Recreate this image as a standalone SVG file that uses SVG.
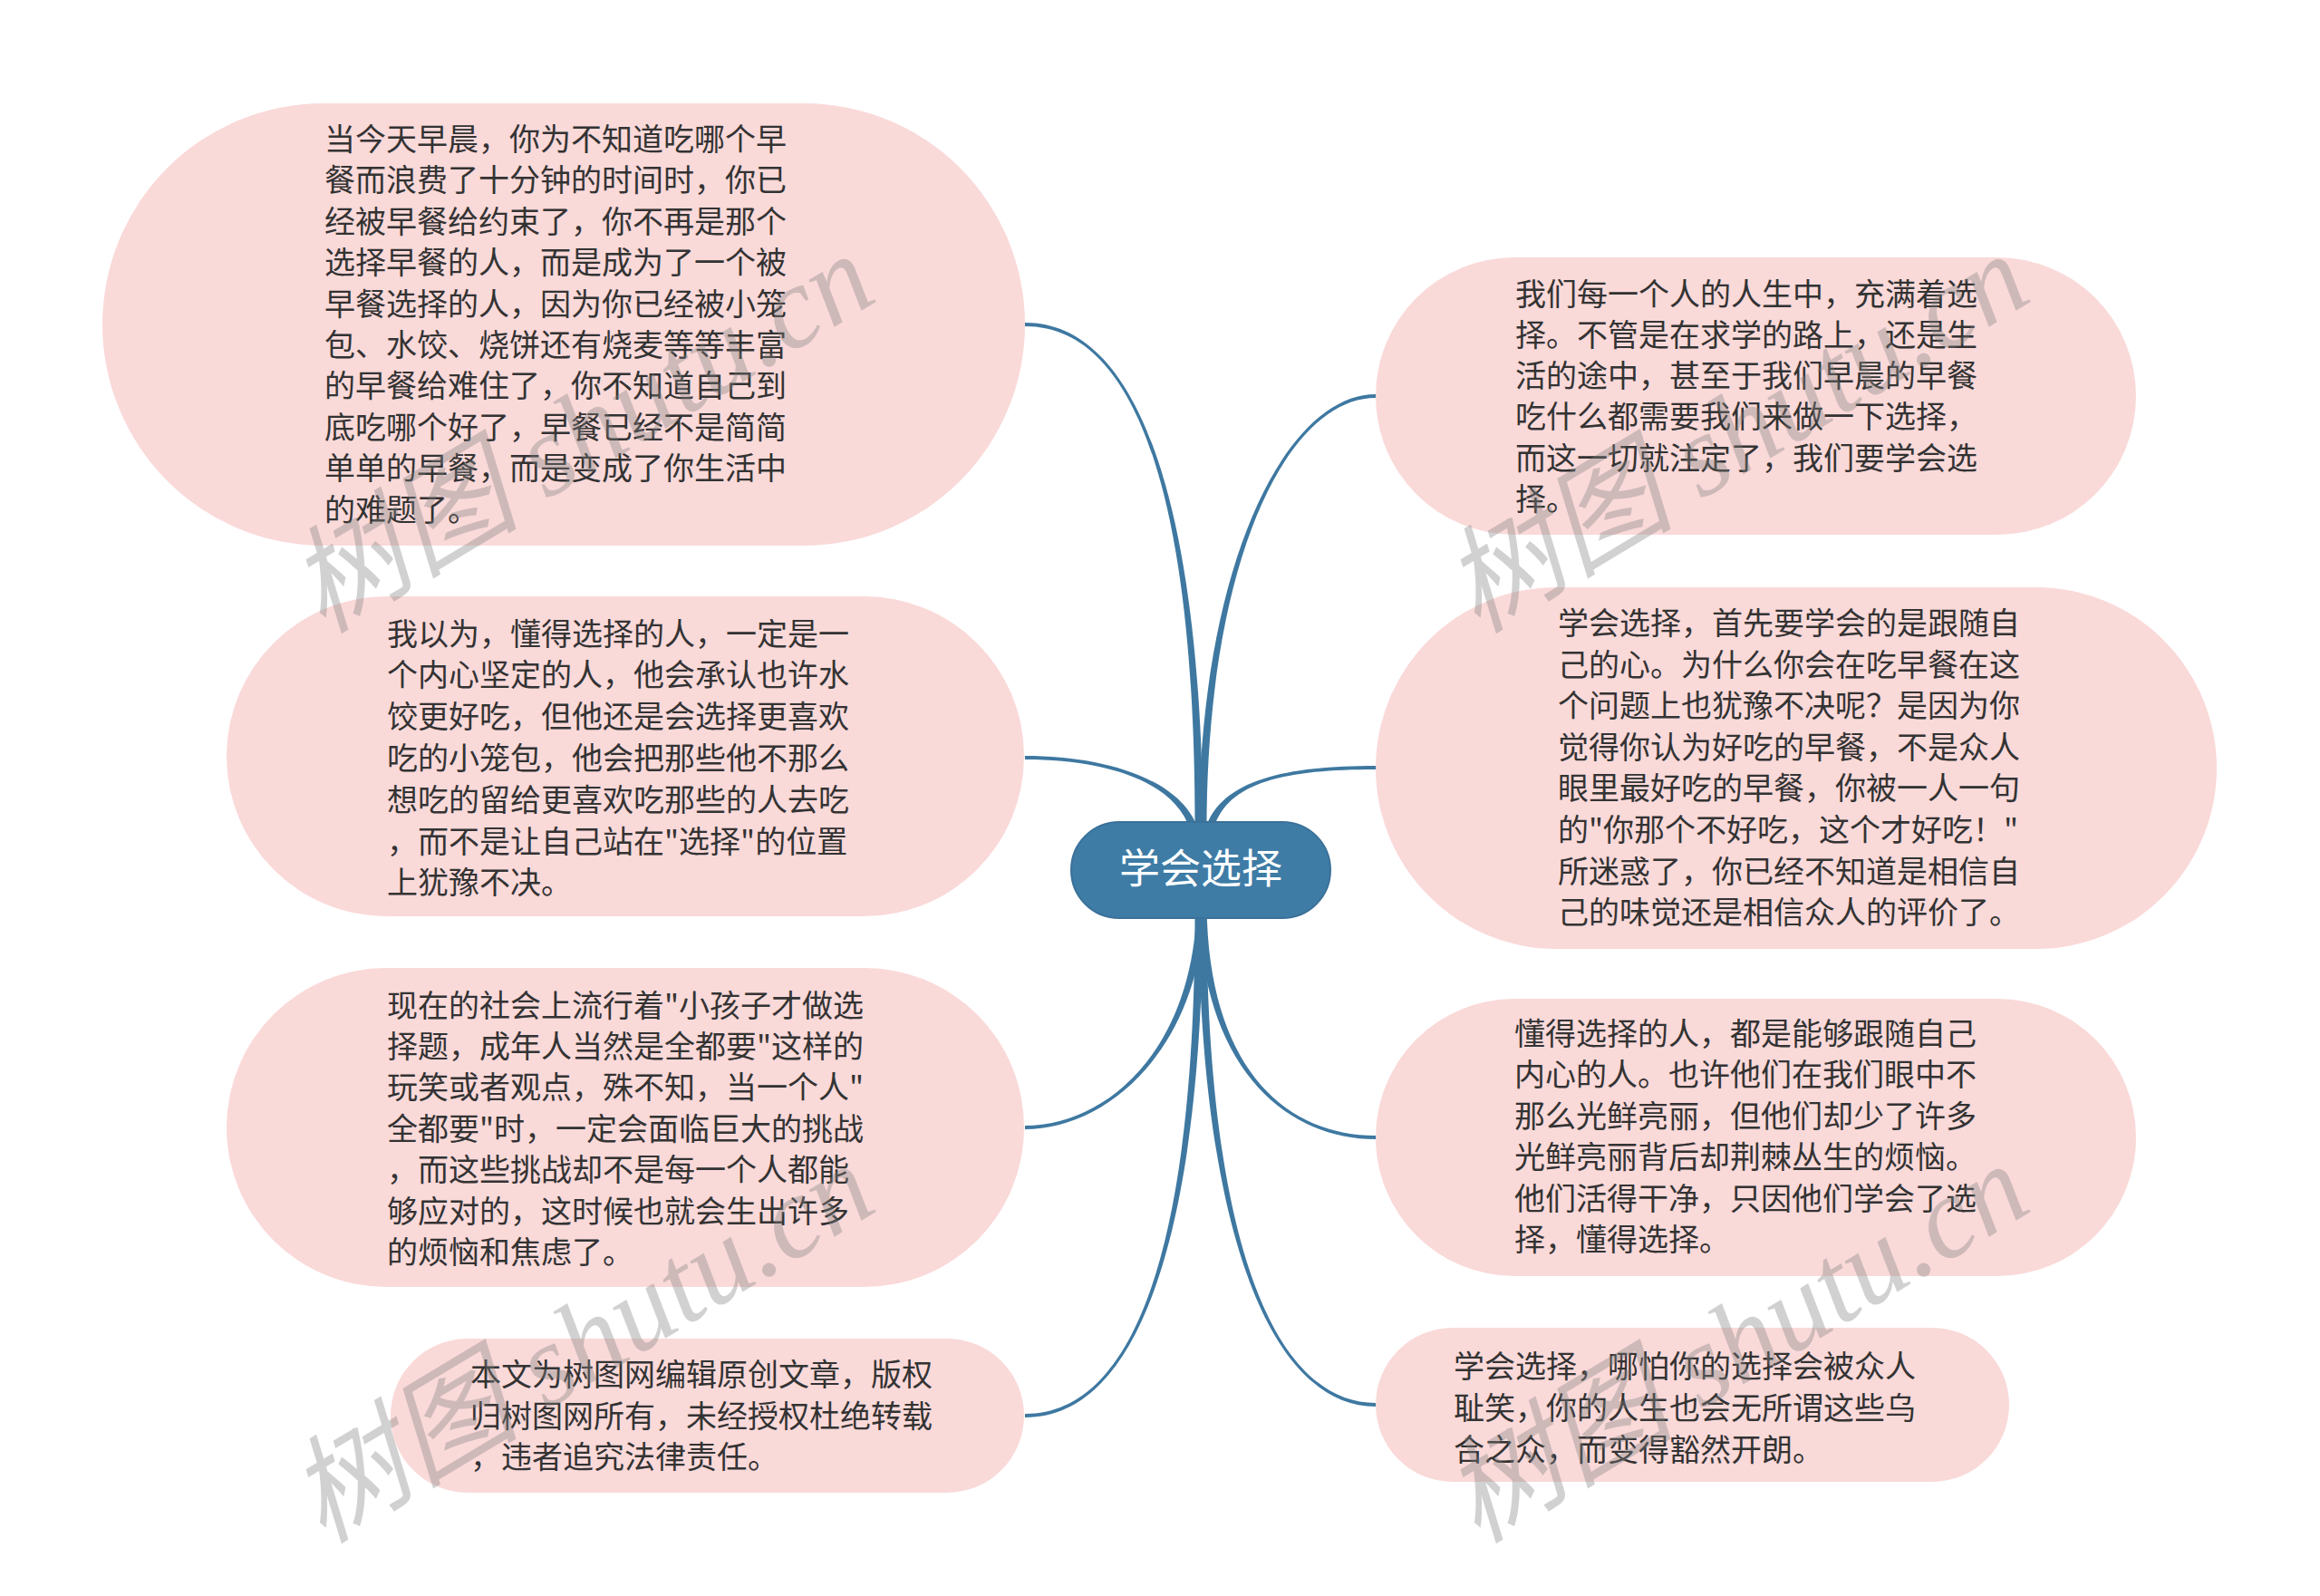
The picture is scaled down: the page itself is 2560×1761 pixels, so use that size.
<svg xmlns="http://www.w3.org/2000/svg" width="2560" height="1761" viewBox="0 0 2560 1761">
<defs>
<style>
.pill{fill:#FAD9D9;}
.t{font-family:"Noto Sans CJK SC","Noto Sans",sans-serif;font-size:34px;fill:#333333;}
.root-rect{fill:#3E7CA6;stroke:#3A7199;stroke-width:2;}
.root-text{font-family:"Noto Sans CJK SC","Noto Sans",sans-serif;font-size:45px;fill:#FFFFFF;text-anchor:middle;}
.conn{fill:#3E78A1;stroke:none;}
.wm{font-family:"Liberation Serif","Noto Sans CJK SC",serif;font-style:italic;font-size:128px;fill:#808080;fill-opacity:0.36;}
</style>
</defs>
<rect width="2560" height="1761" fill="#FFFFFF"/>

<g id="connectors">
<path class="conn" d="M1327.5,920 C1326.5,600 1270,356 1131,356 L1131,360 C1270,360 1319.5,600 1318.5,920 Z"/>
<path class="conn" d="M1322,915 C1304,860 1220,834 1131,834 L1131,838 C1220,838 1296,862 1313,915 Z"/>
<path class="conn" d="M1329.5,1000 C1323.5,1160 1220,1246 1131,1246 L1131,1242 C1220,1242 1316.5,1160 1320.5,1000 Z"/>
<path class="conn" d="M1327.5,1000 C1326.5,1350 1260,1564 1131,1564 L1131,1560 C1260,1560 1319.5,1350 1318.5,1000 Z"/>
<path class="conn" d="M1322.5,920 C1323.5,620 1420,435 1518,435 L1518,439 C1420,439 1330.5,620 1331.5,920 Z"/>
<path class="conn" d="M1330,915 C1347,860 1420,845 1518,845 L1518,849 C1420,849 1354,862 1339,915 Z"/>
<path class="conn" d="M1322.5,1000 C1326.5,1180 1420,1257 1518,1257 L1518,1253 C1420,1253 1333.5,1180 1331.5,1000 Z"/>
<path class="conn" d="M1322.5,1000 C1323.5,1350 1400,1552 1518,1552 L1518,1548 C1400,1548 1330.5,1350 1331.5,1000 Z"/>
</g>

<g id="root">
<rect class="root-rect" x="1182" y="907" width="286" height="106" rx="53" ry="53"/>
<text class="root-text" x="1325" y="975">学会选择</text>
</g>

<g id="node1">
<rect class="pill" x="113" y="114" width="1018" height="488" rx="244" ry="244"/>
<text class="t">
<tspan x="358" y="166">当今天早晨，你为不知道吃哪个早</tspan>
<tspan x="358" y="211.4">餐而浪费了十分钟的时间时，你已</tspan>
<tspan x="358" y="256.8">经被早餐给约束了，你不再是那个</tspan>
<tspan x="358" y="302.2">选择早餐的人，而是成为了一个被</tspan>
<tspan x="358" y="347.6">早餐选择的人，因为你已经被小笼</tspan>
<tspan x="358" y="393">包、水饺、烧饼还有烧麦等等丰富</tspan>
<tspan x="358" y="438.4">的早餐给难住了，你不知道自己到</tspan>
<tspan x="358" y="483.8">底吃哪个好了，早餐已经不是简简</tspan>
<tspan x="358" y="529.2">单单的早餐，而是变成了你生活中</tspan>
<tspan x="358" y="574.6">的难题了。</tspan>
</text>
</g>

<g id="node2">
<rect class="pill" x="250" y="658" width="880" height="353" rx="176.5" ry="176.5"/>
<text class="t">
<tspan x="427" y="711.5">我以为，懂得选择的人，一定是一</tspan>
<tspan x="427" y="757.3">个内心坚定的人，他会承认也许水</tspan>
<tspan x="427" y="803.1">饺更好吃，但他还是会选择更喜欢</tspan>
<tspan x="427" y="848.9">吃的小笼包，他会把那些他不那么</tspan>
<tspan x="427" y="894.7">想吃的留给更喜欢吃那些的人去吃</tspan>
<tspan x="427" y="940.5">，而不是让自己站在"选择"的位置</tspan>
<tspan x="427" y="986.3">上犹豫不决。</tspan>
</text>
</g>

<g id="node3">
<rect class="pill" x="250" y="1068" width="880" height="352" rx="176" ry="176"/>
<text class="t">
<tspan x="427" y="1121.5">现在的社会上流行着"小孩子才做选</tspan>
<tspan x="427" y="1166.9">择题，成年人当然是全都要"这样的</tspan>
<tspan x="427" y="1212.3">玩笑或者观点，殊不知，当一个人"</tspan>
<tspan x="427" y="1257.7">全都要"时，一定会面临巨大的挑战</tspan>
<tspan x="427" y="1303.1">，而这些挑战却不是每一个人都能</tspan>
<tspan x="427" y="1348.5">够应对的，这时候也就会生出许多</tspan>
<tspan x="427" y="1393.9">的烦恼和焦虑了。</tspan>
</text>
</g>

<g id="node4">
<rect class="pill" x="431" y="1477" width="699" height="170" rx="85" ry="85"/>
<text class="t">
<tspan x="519" y="1529">本文为树图网编辑原创文章，版权</tspan>
<tspan x="519" y="1574.5">归树图网所有，未经授权杜绝转载</tspan>
<tspan x="519" y="1620">，违者追究法律责任。</tspan>
</text>
</g>

<g id="node5">
<rect class="pill" x="1518" y="284" width="839" height="306" rx="153" ry="153"/>
<text class="t">
<tspan x="1672" y="336.5">我们每一个人的人生中，充满着选</tspan>
<tspan x="1672" y="381.8">择。不管是在求学的路上，还是生</tspan>
<tspan x="1672" y="427.1">活的途中，甚至于我们早晨的早餐</tspan>
<tspan x="1672" y="472.4">吃什么都需要我们来做一下选择，</tspan>
<tspan x="1672" y="517.7">而这一切就注定了，我们要学会选</tspan>
<tspan x="1672" y="563">择。</tspan>
</text>
</g>

<g id="node6">
<rect class="pill" x="1518" y="648" width="928" height="399" rx="199.5" ry="199.5"/>
<text class="t">
<tspan x="1719" y="700">学会选择，首先要学会的是跟随自</tspan>
<tspan x="1719" y="745.6">己的心。为什么你会在吃早餐在这</tspan>
<tspan x="1719" y="791.2">个问题上也犹豫不决呢？是因为你</tspan>
<tspan x="1719" y="836.8">觉得你认为好吃的早餐，不是众人</tspan>
<tspan x="1719" y="882.4">眼里最好吃的早餐，你被一人一句</tspan>
<tspan x="1719" y="928">的"你那个不好吃，这个才好吃！"</tspan>
<tspan x="1719" y="973.6">所迷惑了，你已经不知道是相信自</tspan>
<tspan x="1719" y="1019.2">己的味觉还是相信众人的评价了。</tspan>
</text>
</g>

<g id="node7">
<rect class="pill" x="1518" y="1102" width="839" height="306" rx="153" ry="153"/>
<text class="t">
<tspan x="1671" y="1153">懂得选择的人，都是能够跟随自己</tspan>
<tspan x="1671" y="1198.4">内心的人。也许他们在我们眼中不</tspan>
<tspan x="1671" y="1243.8">那么光鲜亮丽，但他们却少了许多</tspan>
<tspan x="1671" y="1289.2">光鲜亮丽背后却荆棘丛生的烦恼。</tspan>
<tspan x="1671" y="1334.6">他们活得干净，只因他们学会了选</tspan>
<tspan x="1671" y="1380">择，懂得选择。</tspan>
</text>
</g>

<g id="node8">
<rect class="pill" x="1518" y="1465" width="699" height="170" rx="85" ry="85"/>
<text class="t">
<tspan x="1604" y="1520">学会选择，哪怕你的选择会被众人</tspan>
<tspan x="1604" y="1566">耻笑，你的人生也会无所谓这些乌</tspan>
<tspan x="1604" y="1612">合之众，而变得豁然开朗。</tspan>
</text>
</g>

<g id="watermarks">
<text class="wm" x="356" y="700" transform="rotate(-31 356 700)">树图 shutu.cn</text>
<text class="wm" x="1630" y="700" transform="rotate(-31 1630 700)">树图 shutu.cn</text>
<text class="wm" x="356" y="1704" transform="rotate(-31 356 1704)">树图 shutu.cn</text>
<text class="wm" x="1630" y="1704" transform="rotate(-31 1630 1704)">树图 shutu.cn</text>
</g>
</svg>
